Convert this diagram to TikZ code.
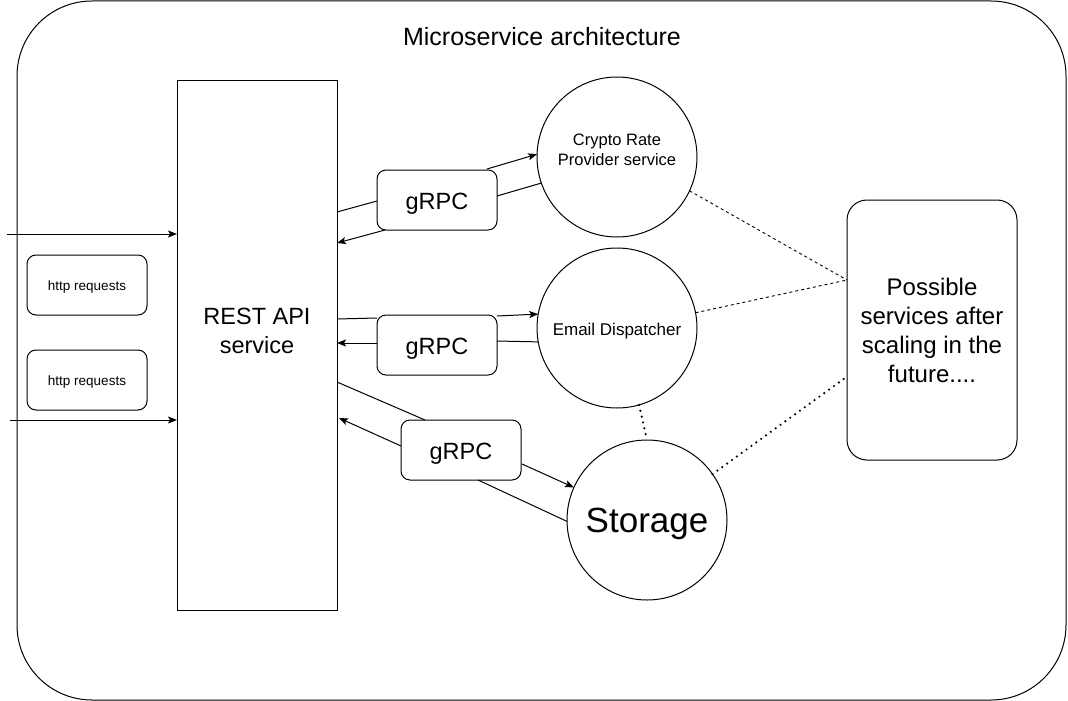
\documentclass[tikz,border=0pt]{standalone}
\usepackage{fontspec}
\setmainfont{Liberation Sans}
\usetikzlibrary{arrows.meta,calc}
\begin{document}
\begin{tikzpicture}[x=1pt,y=-1pt,
  every node/.style={inner sep=0pt,outer sep=0pt},
  ln/.style={line width=1pt,draw=black},
  arr/.style={ln,-{Stealth[length=9pt,width=7pt,inset=2pt]}},
  rbox/.style={draw,line width=1pt,rounded corners=9pt,minimum width=120pt,minimum height=60pt},
  svc/.style={draw,circle,line width=1pt,minimum size=160pt},
  grpct/.style={font=\fontsize{23.5}{28}\selectfont},
  httpt/.style={font=\fontsize{13.5}{16}\selectfont},
  dsh/.style={line width=0.9pt,dash pattern=on 3pt off 3pt},
  dtt/.style={line width=2.4pt,dash pattern=on 0pt off 6pt,line cap=round}
]
\useasboundingbox (0,0) rectangle (1068,701);
% outer container
\draw[line width=1pt,rounded corners=75pt] (17,1) rectangle (1066,700);
\node[font=\fontsize{25}{29}\selectfont] (title) at (542,37) {Microservice architecture};

% REST API
\node[draw,line width=1pt,minimum width=160pt,minimum height=530pt] (rest) at (257,345) {};
\node[font=\fontsize{23.5}{29}\selectfont,align=center] (resttext) at (257,331) {REST API\\service};

% http boxes
\node[rbox] (h1) at (87,285) {};
\node[httpt] (h1t) at (87,287) {http requests};
\node[rbox] (h2) at (87,380) {};
\node[httpt] (h2t) at (87,382) {http requests};

% services
\node[svc] (crypto) at (617,157) {};
\node[font=\fontsize{16.5}{20}\selectfont,align=center] (cryptot) at (617,150) {Crypto Rate\\Provider service};
\node[svc] (email) at (617,328) {};
\node[font=\fontsize{17}{20}\selectfont] (emailt) at (617,331) {Email Dispatcher};
\node[svc] (storage) at (647,520) {};
\node[font=\fontsize{35}{40}\selectfont] (storaget) at (647,524) {Storage};

% possible box
\node[draw,line width=1pt,rounded corners=20pt,minimum width=170pt,minimum height=260pt,align=center,
  font=\fontsize{24}{29}\selectfont] (future) at (932,330) {Possible\\services after\\scaling in the\\future....};

% gRPC boxes
\node[rbox] (g1) at (437,200) {};
\node[grpct] (g1t) at (437,204) {gRPC};
\node[rbox] (g2) at (437,345) {};
\node[grpct] (g2t) at (437,349) {gRPC};
\node[rbox] (g3) at (461,450) {};
\node[grpct] (g3t) at (461,454) {gRPC};

% incoming requests
\coordinate (in1) at (7,234);
\coordinate (in2) at (10,420);
\draw[arr] (in1) -- (in1 -| rest.west);
\draw[arr] (in2) -- (in2 -| rest.west);

% crypto links
\draw[ln] ($(rest.north east)+(0,132)$) -- ($(g1.west)+(0,1)$);
\draw[ln] ($(g1.east)+(0,-4)$) -- (crypto.199);
\draw[arr] ($(g1.north east)+(-10,-1)$) -- (crypto.178);
\draw[arr] ($(g1.south west)+(8,0)$) -- ($(rest.north east)+(0,163)$);

% email links
\draw[ln] ($(rest.north east)+(0,239)$) -- ($(g2.north west)+(0,3)$);
\draw[arr] ($(g2.north east)+(0,1)$) -- (email.170);
\draw[ln] (email.190) -- ($(g2.east)+(0,-4)$);
\draw[arr] ($(g2.west)+(0,-2)$) -- ($(rest.north east)+(0,263)$);

% storage links
\draw[ln] ($(rest.north east)+(0,302)$) -- ($(g3.north west)+(24,0)$);
\draw[arr] ($(g3.west)+(0,-4)$) -- ($(rest.north east)+(2,338)$);
\draw[arr] ($(g3.east)+(1,14)$) -- (storage.156);
\draw[ln] ($(g3.south west)+(77,0)$) -- (storage.181);

% future links
\coordinate (fa) at ($(future.north west)+(0,80)$);
\coordinate (fb) at ($(future.north west)+(-2,178)$);
\draw[dsh] (crypto.-25) -- (fa);
\draw[dsh] (email.11) -- (fa);
\draw[dtt] (email.-74) -- (storage.90);
\draw[dtt] (storage.35) -- (fb);
\end{tikzpicture}
\end{document}
